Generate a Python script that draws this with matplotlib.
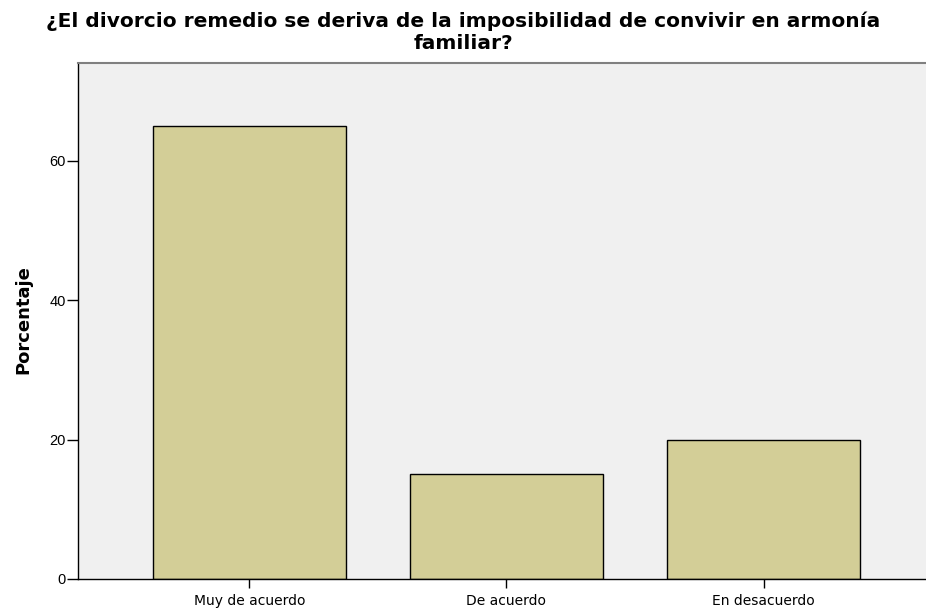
import matplotlib
matplotlib.use("Agg")
import matplotlib.pyplot as plt

categories = ["Muy de acuerdo", "De acuerdo", "En desacuerdo"]
values = [65, 15, 20]
yticks = [0, 20, 40, 60]
title_lines = ["¿El divorcio remedio se deriva de la imposibilidad de convivir en armonía", "familiar?"]

plt.rcParams['font.family'] = ['Liberation Sans', 'DejaVu Sans']

W, H = 926, 608
fig = plt.figure(figsize=(W/100, H/100), dpi=100)
ax = fig.add_axes([78/W, 1-579/H, 1-78/W, (579-63)/H])
ax.set_facecolor('#F0F0F0')
x = list(range(len(categories)))
ax.bar(x, values, width=0.75, color='#D3CE97', edgecolor='black', linewidth=1, zorder=2)
ax.set_xlim(-0.667, 2.632)
ax.set_ylim(0, 74)
ax.set_xticks(x)
ax.set_xticklabels(categories, fontsize=10, family='DejaVu Sans')
ax.set_yticks(yticks)
ax.set_yticklabels([str(t) for t in yticks], fontsize=10.5)
ax.tick_params(axis='y', direction='out', length=8, width=1, color='black', pad=1)
ax.tick_params(axis='x', direction='out', length=6.5, width=1, color='black', pad=4)
for s in ['left', 'bottom']:
    ax.spines[s].set_color('black')
    ax.spines[s].set_linewidth(1)
ax.spines['top'].set_color('#808080')
ax.spines['top'].set_linewidth(1.5)
ax.spines['right'].set_visible(False)

fig.text(23/W, 1-320/H, 'Porcentaje', rotation=90, ha='center', va='center',
         fontsize=13, fontweight='bold', family='DejaVu Sans')
fig.text(0.5, 1-27/H, title_lines[0], ha='center', va='baseline',
         fontsize=14.5, fontweight='bold', family='DejaVu Sans')
fig.text(0.5, 1-49/H, title_lines[1], ha='center', va='baseline',
         fontsize=14.5, fontweight='bold', family='DejaVu Sans')
fig.savefig('out.png', dpi=100)
